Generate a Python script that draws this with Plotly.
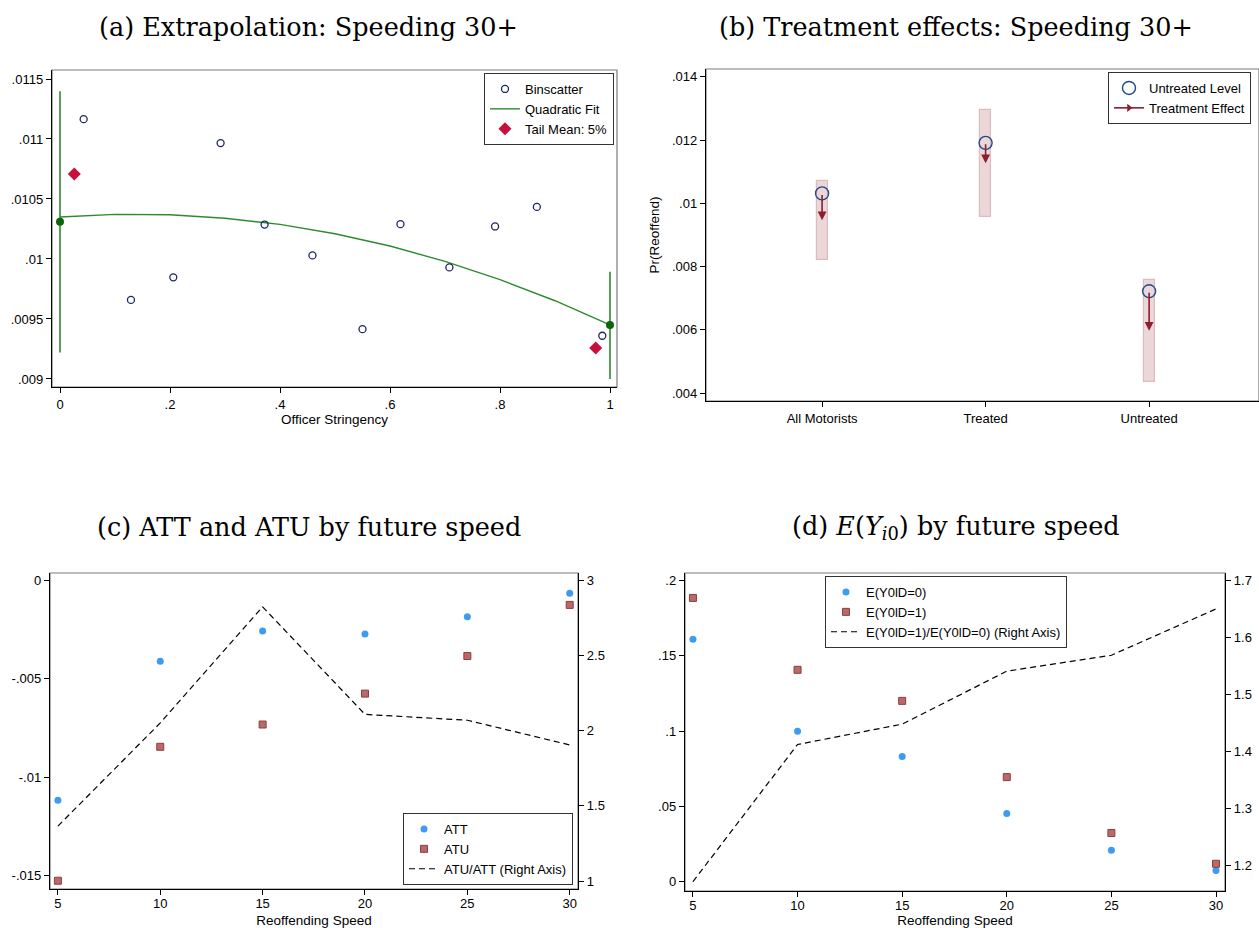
import plotly.graph_objects as go

# ---------------- data ----------------
# (a) Extrapolation: Speeding 30+
bin_x = [0.043, 0.129, 0.206, 0.292, 0.372, 0.459, 0.550, 0.619, 0.708, 0.791, 0.867, 0.986]
bin_y = [0.011165, 0.009659, 0.009847, 0.010966, 0.010287, 0.010030, 0.009415,
         0.010290, 0.009930, 0.010271, 0.010434, 0.009360]
fit_x = [0.0, 0.1, 0.2, 0.3, 0.4, 0.5, 0.6, 0.7, 0.8, 0.9, 1.0]
fit_y = [0.010350, 0.010372, 0.010368, 0.010340, 0.010288, 0.010210, 0.010108,
         0.009980, 0.009828, 0.009652, 0.009450]
end_x = [0.0, 1.0]
end_y = [0.01031, 0.00945]
end_lo = [0.009221, 0.009000]
end_hi = [0.011398, 0.009894]
tail_x = [0.026, 0.974]
tail_y = [0.010708, 0.009257]

# (b) Treatment effects: Speeding 30+
groups = ["All Motorists", "Treated", "Untreated"]
group_pos = [1, 2, 3]
untreated_level = [0.010314, 0.011913, 0.007220]
treatment_effect = [-0.000848, -0.000646, -0.001250]
level_lo = [0.008216, 0.009561, 0.004350]
level_hi = [0.010695, 0.012941, 0.007580]

# (c) ATT and ATU by future speed
speed = [5, 10, 15, 20, 25, 30]
att = [-0.01118, -0.00412, -0.002584, -0.002736, -0.001858, -0.000659]
atu = [-0.01527, -0.008463, -0.007331, -0.00576, -0.003851, -0.00125]
atu_att_ratio = [1.365, 2.051, 2.823, 2.108, 2.069, 1.905]

# (d) E(Y_i0) by future speed
ey0_d0 = [0.1609, 0.0998, 0.0831, 0.0453, 0.0208, 0.0075]
ey0_d1 = [0.1883, 0.1406, 0.1200, 0.0694, 0.0323, 0.0119]
ey0_ratio = [1.1708, 1.4117, 1.4474, 1.5404, 1.5684, 1.6497]

# tick labels
a_xticks = [0, 0.2, 0.4, 0.6, 0.8, 1]
a_xlabels = ["0", ".2", ".4", ".6", ".8", "1"]
a_yticks = [0.009, 0.0095, 0.01, 0.0105, 0.011, 0.0115]
a_ylabels = [".009", ".0095", ".01", ".0105", ".011", ".0115"]
b_yticks = [0.004, 0.006, 0.008, 0.01, 0.012, 0.014]
b_ylabels = [".004", ".006", ".008", ".01", ".012", ".014"]
c_yticks = [-0.015, -0.01, -0.005, 0]
c_ylabels = ["-.015", "-.01", "-.005", "0"]
c_y2ticks = [1, 1.5, 2, 2.5, 3]
c_y2labels = ["1", "1.5", "2", "2.5", "3"]
d_yticks = [0, 0.05, 0.1, 0.15, 0.2]
d_ylabels = ["0", ".05", ".1", ".15", ".2"]
d_y2ticks = [1.2, 1.3, 1.4, 1.5, 1.6, 1.7]
d_y2labels = ["1.2", "1.3", "1.4", "1.5", "1.6", "1.7"]

# ---------------- styling ----------------
W, H = 1259, 928
SANS = "Liberation Sans, Arial, sans-serif"
SERIF = "DejaVu Serif, serif"
NAVY = "#1c2661"
GREEN = "#2f8a2f"
DKGREEN = "#0b650b"
CRIMSON = "#c8103a"
BLUE = "#3d9cf2"
SQ_FILL = "#b86a6a"
SQ_LINE = "#8e3d3d"
ARROW = "#8b1f2e"

fig = go.Figure()

# ---- panel (a)
ci_x, ci_y = [], []
for x, lo, hi in zip(end_x, end_lo, end_hi):
    ci_x += [x, x, None]
    ci_y += [lo, hi, None]
fig.add_trace(go.Scatter(x=ci_x, y=ci_y, mode="lines", line=dict(color=GREEN, width=1.6),
                         showlegend=False, xaxis="x", yaxis="y", hoverinfo="skip"))
fig.add_trace(go.Scatter(x=fit_x, y=fit_y, mode="lines", line=dict(color=GREEN, width=1.4),
                         name="Quadratic Fit", legend="legend", legendrank=2, xaxis="x", yaxis="y"))
fig.add_trace(go.Scatter(x=end_x, y=end_y, mode="markers",
                         marker=dict(color=DKGREEN, size=8, symbol="circle"),
                         showlegend=False, xaxis="x", yaxis="y", cliponaxis=False))
fig.add_trace(go.Scatter(x=bin_x, y=bin_y, mode="markers",
                         marker=dict(symbol="circle-open", size=7, color=NAVY, line=dict(width=1.3)),
                         name="Binscatter", legend="legend", legendrank=1, xaxis="x", yaxis="y"))
fig.add_trace(go.Scatter(x=tail_x, y=tail_y, mode="markers",
                         marker=dict(symbol="diamond", size=10, color=CRIMSON),
                         name="Tail Mean: 5%", legend="legend", legendrank=3, xaxis="x", yaxis="y"))

# ---- panel (b)
fig.add_trace(go.Bar(x=group_pos, y=[h - l for l, h in zip(level_lo, level_hi)], base=level_lo,
                     width=0.068, marker=dict(color="#ebd6d8", line=dict(color="#dcbcc0", width=1.2)),
                     showlegend=False, xaxis="x2", yaxis="y2", hoverinfo="skip"))
fig.add_trace(go.Scatter(x=group_pos, y=untreated_level, mode="markers",
                         marker=dict(symbol="circle-open", size=13, color="#1f4a8a", line=dict(width=1.4)),
                         name="Untreated Level", legend="legend2", xaxis="x2", yaxis="y2"))
fig.add_trace(go.Scatter(x=[None], y=[None], mode="lines+markers",
                         line=dict(color=ARROW, width=1.6),
                         marker=dict(symbol="triangle-right", size=7, color=ARROW),
                         name="Treatment Effect", legend="legend2", xaxis="x2", yaxis="y2"))

# treatment-effect arrows: from the untreated level down to level + effect
arrows = []
for p, lev, eff in zip(group_pos, untreated_level, treatment_effect):
    arrows.append(dict(x=p, y=lev + eff, ax=p, ay=lev, xref="x2", yref="y2", axref="x2", ayref="y2",
                       showarrow=True, arrowhead=2, arrowsize=1.1, arrowwidth=1.6,
                       arrowcolor=ARROW, standoff=0, startstandoff=0, text=""))

# ---- panel (c)
fig.add_trace(go.Scatter(x=speed, y=atu_att_ratio, mode="lines",
                         line=dict(color="black", width=1.2, dash="6px,4px"),
                         name="ATU/ATT (Right Axis)", legend="legend3", legendrank=3,
                         xaxis="x3", yaxis="y5"))
fig.add_trace(go.Scatter(x=speed, y=att, mode="markers",
                         marker=dict(symbol="circle", size=7, color=BLUE),
                         name="ATT", legend="legend3", legendrank=1, xaxis="x3", yaxis="y3"))
fig.add_trace(go.Scatter(x=speed, y=atu, mode="markers",
                         marker=dict(symbol="square", size=7, color=SQ_FILL, line=dict(color=SQ_LINE, width=1)),
                         name="ATU", legend="legend3", legendrank=2, xaxis="x3", yaxis="y3"))

# ---- panel (d)
fig.add_trace(go.Scatter(x=speed, y=ey0_ratio, mode="lines",
                         line=dict(color="black", width=1.2, dash="6px,4px"),
                         name="E(Y0lD=1)/E(Y0lD=0) (Right Axis)", legend="legend4", legendrank=3,
                         xaxis="x4", yaxis="y6"))
fig.add_trace(go.Scatter(x=speed, y=ey0_d0, mode="markers",
                         marker=dict(symbol="circle", size=7, color=BLUE),
                         name="E(Y0lD=0)", legend="legend4", legendrank=1, xaxis="x4", yaxis="y4"))
fig.add_trace(go.Scatter(x=speed, y=ey0_d1, mode="markers",
                         marker=dict(symbol="square", size=7, color=SQ_FILL, line=dict(color=SQ_LINE, width=1)),
                         name="E(Y0lD=1)", legend="legend4", legendrank=2, xaxis="x4", yaxis="y4"))

# ---------------- axes ----------------
def px_x(p):
    return p / W

def px_y(p):
    return 1 - p / H

tick_font = dict(family=SANS, size=13, color="black")
title_font = dict(family=SANS, size=13.5, color="black")
axis_common = dict(showline=True, linecolor="black", linewidth=1.4, ticks="outside", ticklen=5,
                   tickwidth=1, tickcolor="black", showgrid=False, zeroline=False,
                   tickfont=tick_font, fixedrange=True)

fig.update_layout(
    xaxis=dict(domain=[px_x(52), px_x(617)], anchor="y", range=[-0.01455, 1.01273],
               tickvals=a_xticks, ticktext=a_xlabels,
               title=dict(text="Officer Stringency", font=title_font, standoff=3), **axis_common),
    yaxis=dict(domain=[px_y(387), px_y(70)], anchor="x", range=[0.008933, 0.011575],
               tickvals=a_yticks, ticktext=a_ylabels, **axis_common),
    xaxis2=dict(domain=[px_x(706), 1.0], anchor="y2", range=[0.29, 3.672],
                tickvals=group_pos, ticktext=groups, **axis_common),
    yaxis2=dict(domain=[px_y(401), px_y(69)], anchor="x2", range=[0.003747, 0.01425],
                tickvals=b_yticks, ticktext=b_ylabels,
                title=dict(text="Pr(Reoffend)", font=title_font, standoff=9), **axis_common),
    xaxis3=dict(domain=[px_x(50), px_x(578)], anchor="y3", range=[4.614, 30.405],
                tickvals=speed, ticktext=[str(s) for s in speed], ticklabelstandoff=-3,
                title=dict(text="Reoffending Speed", font=title_font, standoff=6), **axis_common),
    yaxis3=dict(domain=[px_y(889), px_y(573)], anchor="x3", range=[-0.01569, 0.00037],
                tickvals=c_yticks, ticktext=c_ylabels, **axis_common),
    yaxis5=dict(overlaying="y3", side="right", anchor="x3", range=[0.947, 3.048],
                tickvals=c_y2ticks, ticktext=c_y2labels, **axis_common),
    xaxis4=dict(domain=[px_x(685), px_x(1225)], anchor="y4", range=[4.62, 30.43],
                tickvals=speed, ticktext=[str(s) for s in speed], ticklabelstandoff=-3,
                title=dict(text="Reoffending Speed", font=title_font, standoff=6), **axis_common),
    yaxis4=dict(domain=[px_y(891), px_y(573)], anchor="x4", range=[-0.00617, 0.20484],
                tickvals=d_yticks, ticktext=d_ylabels, **axis_common),
    yaxis6=dict(overlaying="y4", side="right", anchor="x4", range=[1.1544, 1.7128],
                tickvals=d_y2ticks, ticktext=d_y2labels, **axis_common),
)

legend_common = dict(bgcolor="white", bordercolor="#333333", borderwidth=1,
                     font=dict(family=SANS, size=13, color="black"), traceorder="normal",
                     tracegroupgap=0, itemclick=False, itemdoubleclick=False)
fig.update_layout(
    legend=dict(x=px_x(614), xanchor="right", y=px_y(73), yanchor="top", **legend_common),
    legend2=dict(x=px_x(1108), xanchor="left", y=px_y(72), yanchor="top", **legend_common),
    legend3=dict(x=px_x(573), xanchor="right", y=px_y(885), yanchor="bottom", **legend_common),
    legend4=dict(x=px_x(825), xanchor="left", y=px_y(576), yanchor="top", **legend_common),
)

# grey plot-region outlines
shapes = []
for xa, ya in [("x", "y"), ("x2", "y2"), ("x3", "y3"), ("x4", "y4")]:
    shapes.append(dict(type="rect", xref=f"{xa} domain", yref=f"{ya} domain", x0=0, x1=1, y0=0, y1=1,
                       line=dict(color="#7a7a7a", width=1.2), layer="below"))

# panel titles
titles = [
    ("(a) Extrapolation: Speeding 30+", 308, 27),
    ("(b) Treatment effects: Speeding 30+", 956, 27),
    ("(c) ATT and ATU by future speed", 309, 527),
    ("(d) <i>E</i>(<i>Y</i><sub><i>i</i>0</sub>) by future speed", 956, 527),
]
title_ann = [dict(text=t, x=px_x(cx), y=px_y(cy), xref="paper", yref="paper", xanchor="center",
                  yanchor="middle", showarrow=False, font=dict(family=SERIF, size=25.5, color="black"))
             for t, cx, cy in titles]

fig.update_layout(
    width=W, height=H, autosize=False,
    margin=dict(l=0, r=0, t=0, b=0, pad=0),
    paper_bgcolor="white", plot_bgcolor="white",
    shapes=shapes, annotations=title_ann + arrows,
    bargap=0, showlegend=True,
)

fig.write_html("out.html")
